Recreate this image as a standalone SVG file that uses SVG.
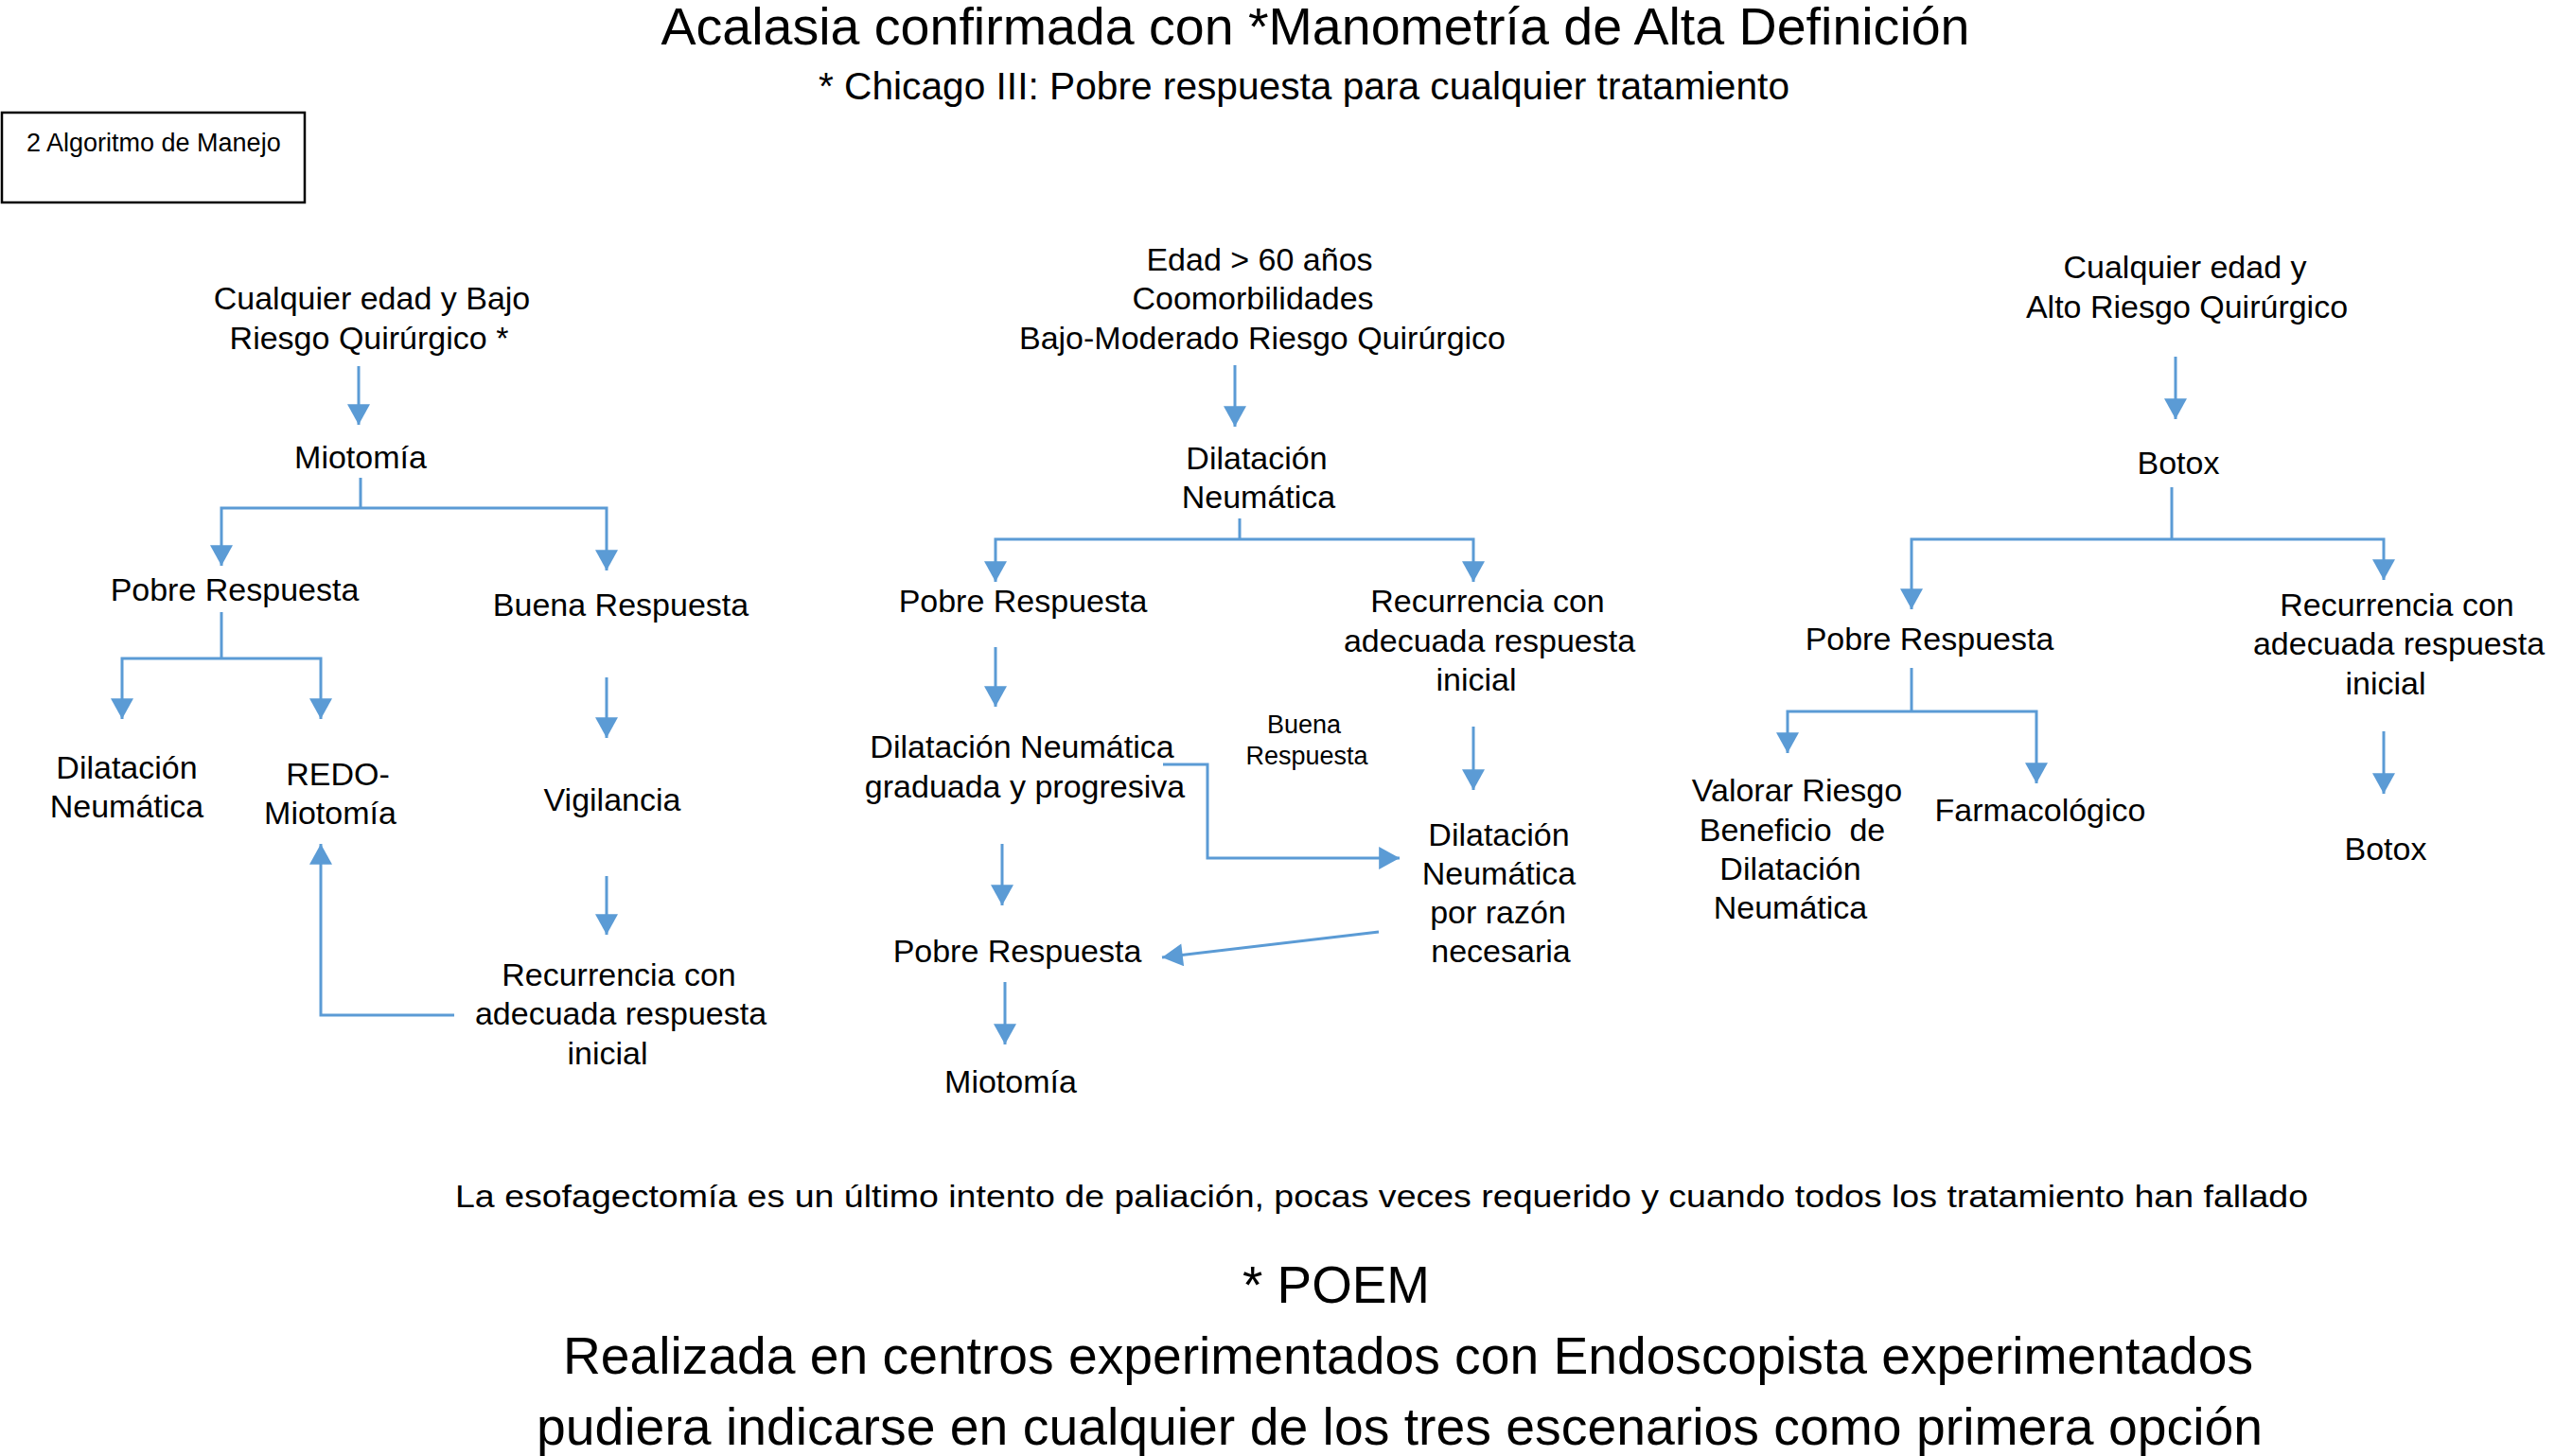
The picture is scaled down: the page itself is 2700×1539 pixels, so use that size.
<svg xmlns="http://www.w3.org/2000/svg" width="2700" height="1539" viewBox="0 0 2700 1539">
<defs>
<style>
text{font-family:"Liberation Sans",Arial,Helvetica,sans-serif;fill:#000;text-anchor:middle}
.n{font-size:34px}
.s{font-size:27px}
.t1{font-size:56px}
.t2{font-size:40px}
.b{font-size:55px}
.c{fill:none;stroke:#5B9BD5;stroke-width:3}
.a{marker-end:url(#ah)}
</style>
<marker id="ah" markerUnits="userSpaceOnUse" markerWidth="24" markerHeight="24" viewBox="0 0 20 22" refX="20" refY="11" orient="auto">
<path d="M0,0 L20,11 L0,22 Z" fill="#5B9BD5"/>
</marker>
</defs>
<rect width="2700" height="1539" fill="#fff"/>

<g id="title">
<text class="t1" x="1390" y="47" textLength="1383" lengthAdjust="spacingAndGlyphs">Acalasia confirmada con *Manometría de Alta Definición</text>
<text class="t2" x="1378" y="105" textLength="1026" lengthAdjust="spacingAndGlyphs">* Chicago III: Pobre respuesta para cualquier tratamiento</text>
</g>

<g id="label-box">
<rect x="2" y="119" width="320" height="95" fill="none" stroke="#000" stroke-width="2.5"/>
<text x="28" y="160" style="font-size:27px;text-anchor:start">2 Algoritmo de Manejo</text>
</g>

<!-- Left column -->
<g id="n-left-start"><text class="n" x="393" y="327">Cualquier edad y Bajo</text><text class="n" x="390" y="369">Riesgo Quirúrgico *</text></g>
<g id="n-left-miotomia"><text class="n" x="381" y="495">Miotomía</text></g>
<g id="n-left-pobre"><text class="n" x="248" y="635">Pobre Respuesta</text></g>
<g id="n-left-buena"><text class="n" x="656" y="651">Buena Respuesta</text></g>
<g id="n-left-dilat"><text class="n" x="134" y="823">Dilatación</text><text class="n" x="134" y="864">Neumática</text></g>
<g id="n-left-redo"><text class="n" x="357" y="830">REDO-</text><text class="n" x="349" y="871">Miotomía</text></g>
<g id="n-left-vigil"><text class="n" x="647" y="857">Vigilancia</text></g>
<g id="n-left-recur"><text class="n" x="654" y="1042">Recurrencia con</text><text class="n" x="656" y="1083">adecuada respuesta</text><text class="n" x="642" y="1125">inicial</text></g>

<!-- Middle column -->
<g id="n-mid-start"><text class="n" x="1331" y="286">Edad &gt; 60 años</text><text class="n" x="1324" y="327">Coomorbilidades</text><text class="n" x="1334" y="369">Bajo-Moderado Riesgo Quirúrgico</text></g>
<g id="n-mid-dilat"><text class="n" x="1328" y="496">Dilatación</text><text class="n" x="1330" y="537">Neumática</text></g>
<g id="n-mid-pobre"><text class="n" x="1081" y="647">Pobre Respuesta</text></g>
<g id="n-mid-recur"><text class="n" x="1572" y="647">Recurrencia con</text><text class="n" x="1574" y="689">adecuada respuesta</text><text class="n" x="1560" y="730">inicial</text></g>
<g id="n-mid-grad"><text class="n" x="1080" y="801">Dilatación Neumática</text><text class="n" x="1083" y="843">graduada y progresiva</text></g>
<g id="n-mid-buena-label"><text class="s" x="1378" y="775">Buena</text><text class="s" x="1381" y="808">Respuesta</text></g>
<g id="n-mid-dilat2"><text class="n" x="1584" y="894">Dilatación</text><text class="n" x="1584" y="935">Neumática</text><text class="n" x="1583" y="976">por razón</text><text class="n" x="1586" y="1017">necesaria</text></g>
<g id="n-mid-pobre2"><text class="n" x="1075" y="1017">Pobre Respuesta</text></g>
<g id="n-mid-miotomia"><text class="n" x="1068" y="1155">Miotomía</text></g>

<!-- Right column -->
<g id="n-right-start"><text class="n" x="2309" y="294">Cualquier edad y</text><text class="n" x="2311" y="336">Alto Riesgo Quirúrgico</text></g>
<g id="n-right-botox"><text class="n" x="2302" y="501">Botox</text></g>
<g id="n-right-pobre"><text class="n" x="2039" y="687">Pobre Respuesta</text></g>
<g id="n-right-recur"><text class="n" x="2533" y="651">Recurrencia con</text><text class="n" x="2535" y="692">adecuada respuesta</text><text class="n" x="2521" y="734">inicial</text></g>
<g id="n-right-valorar"><text class="n" x="1899" y="847">Valorar Riesgo</text><text class="n" x="1894" y="889" style="white-space:pre">Beneficio  de</text><text class="n" x="1892" y="930">Dilatación</text><text class="n" x="1892" y="971">Neumática</text></g>
<g id="n-right-farma"><text class="n" x="2156" y="868">Farmacológico</text></g>
<g id="n-right-botox2"><text class="n" x="2521" y="909">Botox</text></g>

<!-- Bottom notes -->
<g id="notes">
<text class="n" x="1460" y="1276" textLength="1958" lengthAdjust="spacingAndGlyphs">La esofagectomía es un último intento de paliación, pocas veces requerido y cuando todos los tratamiento han fallado</text>
<text class="b" x="1412" y="1377" textLength="198" lengthAdjust="spacingAndGlyphs">* POEM</text>
<text class="b" x="1488" y="1452" textLength="1786" lengthAdjust="spacingAndGlyphs">Realizada en centros experimentados con Endoscopista experimentados</text>
<text class="b" x="1479" y="1527" textLength="1824" lengthAdjust="spacingAndGlyphs">pudiera indicarse en cualquier de los tres escenarios como primera opción</text>
</g>

<g id="connectors">
<!-- left -->
<path class="c a" d="M379,387 V449"/>
<path class="c" d="M381,505 V537"/>
<path class="c a" d="M381,537 H234 V598"/>
<path class="c a" d="M381,537 H641 V603"/>
<path class="c" d="M234,647 V696"/>
<path class="c a" d="M234,696 H129 V760"/>
<path class="c a" d="M234,696 H339 V760"/>
<path class="c a" d="M641,716 V780"/>
<path class="c a" d="M641,926 V988"/>
<path class="c a" d="M480,1073 H339 V892"/>
<!-- middle -->
<path class="c a" d="M1305,386 V451"/>
<path class="c" d="M1310,548 V570"/>
<path class="c a" d="M1310,570 H1052 V615"/>
<path class="c a" d="M1310,570 H1557 V615"/>
<path class="c a" d="M1052,684 V747"/>
<path class="c a" d="M1557,768 V835"/>
<path class="c a" d="M1229,808 H1276 V907 H1479"/>
<path class="c a" d="M1457,985 L1228,1012"/>
<path class="c a" d="M1059,892 V957"/>
<path class="c a" d="M1062,1038 V1104"/>
<!-- right -->
<path class="c a" d="M2299,377 V443"/>
<path class="c" d="M2295,515 V570"/>
<path class="c a" d="M2295,570 H2020 V644"/>
<path class="c a" d="M2295,570 H2519 V613"/>
<path class="c" d="M2020,706 V752"/>
<path class="c a" d="M2020,752 H1889 V796"/>
<path class="c a" d="M2020,752 H2152 V828"/>
<path class="c a" d="M2519,773 V839"/>
</g>
</svg>
